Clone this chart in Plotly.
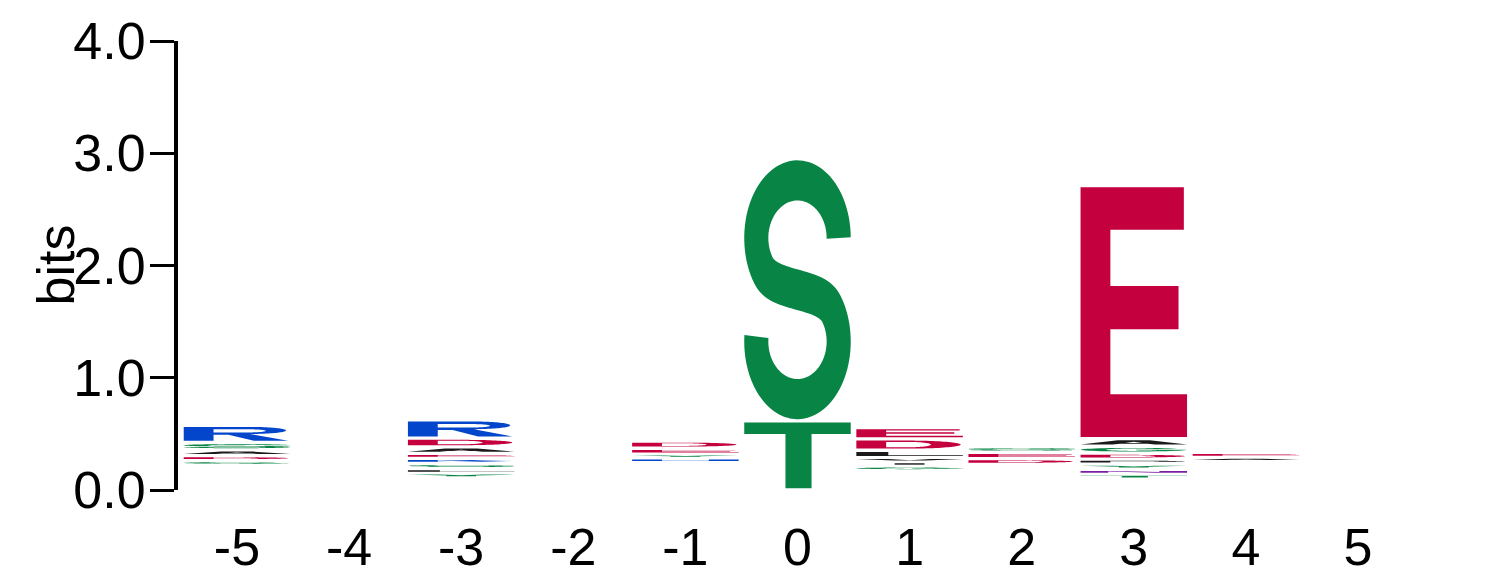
import numpy as np
import plotly.graph_objects as go

# ---------------- data ----------------
positions = [-5, -4, -3, -2, -1, 0, 1, 2, 3, 4, 5]
tick_labels = ["-5", "-4", "-3", "-2", "-1", "0", "1", "2", "3", "4", "5"]
y_ticks = [0, 1, 2, 3, 4]
y_tick_labels = ["0.0", "1.0", "2.0", "3.0", "4.0"]

# information (bits) carried by residues too small to be drawn at each position
minor_bits = [0.221, 0.0, 0.110, 0.0, 0.246, 0.0, 0.172, 0.228, 0.098, 0.255, 0.0]

# letters per position, bottom -> top
stack_letters = [
    ["G", "D", "A", "S", "R"],
    [],
    ["Y", "L", "S", "K", "E", "A", "D", "R"],
    [],
    ["H", "Y", "E", "D"],
    ["T", "S"],
    ["G", "I", "V", "L", "D", "E"],
    ["D", "E", "S"],
    ["T", "N", "Y", "P", "D", "G", "A", "E"],
    ["A", "E"],
    [],
]
stack_bits = [
    [0.040, 0.045, 0.051, 0.067, 0.153],
    [],
    [0.040, 0.040, 0.046, 0.045, 0.045, 0.058, 0.078, 0.163],
    [],
    [0.039, 0.034, 0.053, 0.065],
    [0.616, 2.336],
    [0.042, 0.036, 0.039, 0.065, 0.101, 0.102],
    [0.051, 0.057, 0.051],
    [0.042, 0.045, 0.045, 0.045, 0.053, 0.062, 0.068, 2.255],
    [0.036, 0.043],
    [],
]

# ---------------- style ----------------
BLUE, RED, GREEN, PURPLE, BLACK = "#0346CC", "#C4003F", "#088545", "#7B1FA2", "#1A1A1A"
letter_colors = {
    "R": BLUE, "K": BLUE, "H": BLUE,
    "D": RED, "E": RED,
    "S": GREEN, "T": GREEN, "G": GREEN, "Y": GREEN, "C": GREEN,
    "N": PURPLE, "Q": PURPLE,
    "A": BLACK, "L": BLACK, "I": BLACK, "V": BLACK, "P": BLACK,
    "M": BLACK, "F": BLACK, "W": BLACK,
}
LETTER_WIDTH = 0.95
PAD = 0.015
FONT = "Liberation Sans, Arial, Helvetica, sans-serif"


# ---------------- glyph outlines (unit box) ----------------
def arc(cx, cy, rx, ry, a0, a1, n=48):
    a = np.radians(np.linspace(a0, a1, n))
    return list(zip(cx + rx * np.cos(a), cy + ry * np.sin(a)))


def glyph_S():
    # centerline stroked with uniform thickness in "font space", then squeezed to unit box
    W, t = 0.685, 0.155
    ax, by = (W - t) / 2, 0.5 - 0.2 - t / 2
    cx, yu, yl = W / 2, 0.70, 0.30
    up = np.array(arc(cx, yu, ax, by, 0, 215, 60))
    lo = np.array(arc(cx, yl, ax, by, 35, -185, 90))
    p0, p3 = up[-1], lo[0]
    th = np.radians(215)
    tan = np.array([-ax * np.sin(th), by * np.cos(th)])
    tan = tan / np.linalg.norm(tan)
    s = 0.11
    p1, p2 = p0 + s * tan, p3 - s * tan
    tt = np.linspace(0, 1, 30)[1:-1, None]
    bez = ((1 - tt) ** 3) * p0 + 3 * ((1 - tt) ** 2) * tt * p1 + 3 * (1 - tt) * tt ** 2 * p2 + tt ** 3 * p3
    c = np.vstack([up, bez, lo])
    d = np.gradient(c, axis=0)
    d = d / np.linalg.norm(d, axis=1)[:, None]
    n = np.column_stack([-d[:, 1], d[:, 0]])
    left = c + n * t / 2
    right = c - n * t / 2
    poly = np.vstack([left, right[::-1]])
    poly[:, 0] = poly[:, 0] / W
    return {"outer": [[tuple(p) for p in poly]], "holes": []}


def glyph_R():
    outer = [(0, 0), (0, 1), (0.62, 1)] + arc(0.62, 0.745, 0.34, 0.255, 90, -90)[1:] + \
            [(0.98, 0), (0.66, 0), (0.42, 0.43), (0.28, 0.43), (0.28, 0)]
    hole = [(0.28, 0.6), (0.6, 0.6)] + arc(0.6, 0.715, 0.17, 0.115, -90, 90)[1:] + [(0.28, 0.83)]
    return {"outer": [outer], "holes": [hole]}


def glyph_D():
    outer = [(0, 0), (0, 1), (0.5, 1)] + arc(0.5, 0.5, 0.48, 0.5, 90, -90)[1:]
    hole = [(0.28, 0.17), (0.5, 0.17)] + arc(0.5, 0.5, 0.2, 0.33, -90, 90)[1:] + [(0.28, 0.83)]
    return {"outer": [outer], "holes": [hole]}


def glyph_P():
    outer = [(0, 0), (0, 1), (0.6, 1)] + arc(0.6, 0.7, 0.38, 0.3, 90, -90)[1:] + [(0.28, 0.4), (0.28, 0)]
    hole = [(0.28, 0.56), (0.58, 0.56)] + arc(0.58, 0.7, 0.16, 0.14, -90, 90)[1:] + [(0.28, 0.84)]
    return {"outer": [outer], "holes": [hole]}


def glyph_G():
    outer = arc(0.5, 0.5, 0.5, 0.5, 35, 355) + [(1, 0.5), (0.52, 0.5), (0.52, 0.36), (0.74, 0.36)]
    outer += arc(0.5, 0.5, 0.26, 0.33, 340, 35)
    return {"outer": [outer], "holes": []}


GLYPHS = {
    "E": {"outer": [[(0, 0), (1, 0), (1, 0.171), (0.28, 0.171), (0.28, 0.431), (0.92, 0.431),
                     (0.92, 0.604), (0.28, 0.604), (0.28, 0.829), (0.97, 0.829), (0.97, 1), (0, 1)]],
          "holes": []},
    "T": {"outer": [[(0, 1), (1, 1), (1, 0.826), (0.632, 0.826), (0.632, 0), (0.387, 0),
                     (0.387, 0.826), (0, 0.826)]], "holes": []},
    "A": {"outer": [[(0, 0), (0.35, 1), (0.65, 1), (1, 0), (0.7, 0), (0.63, 0.2), (0.37, 0.2), (0.3, 0)]],
          "holes": [[(0.42, 0.36), (0.58, 0.36), (0.5, 0.66)]]},
    "L": {"outer": [[(0, 0), (1, 0), (1, 0.17), (0.3, 0.17), (0.3, 1), (0, 1)]], "holes": []},
    "I": {"outer": [[(0.36, 0), (0.64, 0), (0.64, 1), (0.36, 1)]], "holes": []},
    "V": {"outer": [[(0, 1), (0.3, 1), (0.5, 0.25), (0.7, 1), (1, 1), (0.65, 0), (0.35, 0)]], "holes": []},
    "Y": {"outer": [[(0, 1), (0.3, 1), (0.5, 0.62), (0.7, 1), (1, 1), (0.64, 0.42), (0.64, 0),
                     (0.36, 0), (0.36, 0.42)]], "holes": []},
    "H": {"outer": [[(0, 0), (0.28, 0), (0.28, 0.42), (0.72, 0.42), (0.72, 0), (1, 0), (1, 1),
                     (0.72, 1), (0.72, 0.59), (0.28, 0.59), (0.28, 1), (0, 1)]], "holes": []},
    "K": {"outer": [[(0, 0), (0.28, 0), (0.28, 0.32), (0.42, 0.47), (0.7, 0), (1, 0), (0.6, 0.66),
                     (0.97, 1), (0.62, 1), (0.28, 0.64), (0.28, 1), (0, 1)]], "holes": []},
    "N": {"outer": [[(0, 0), (0.26, 0), (0.26, 0.66), (0.7, 0), (1, 0), (1, 1), (0.74, 1),
                     (0.74, 0.34), (0.3, 1), (0, 1)]], "holes": []},
    "S": glyph_S(),
    "R": glyph_R(),
    "D": glyph_D(),
    "P": glyph_P(),
    "G": glyph_G(),
}


def signed_area(poly):
    p = np.array(poly)
    x, y = p[:, 0], p[:, 1]
    return 0.5 * np.sum(x * np.roll(y, -1) - np.roll(x, -1) * y)


def oriented(poly, ccw):
    a = signed_area(poly)
    if (a > 0) != ccw:
        return poly[::-1]
    return poly


def glyph_path(letter, xc, y0, h):
    g = GLYPHS[letter]
    w = LETTER_WIDTH
    parts = []
    polys = [oriented(p, True) for p in g["outer"]] + [oriented(p, False) for p in g["holes"]]
    for poly in polys:
        pts = [(xc - w / 2 + u * w, y0 + v * h) for u, v in poly]
        s = "M " + " L ".join(f"{x:.5f},{y:.5f}" for x, y in pts) + " Z"
        parts.append(s)
    return " ".join(parts)


# ---------------- figure ----------------
fig = go.Figure()
# invisible trace so the axes are created
fig.add_trace(go.Scatter(x=positions, y=[0] * len(positions), mode="markers",
                         marker=dict(opacity=0), hoverinfo="skip", showlegend=False))

shapes = []
for pos, base, letters, bits in zip(positions, minor_bits, stack_letters, stack_bits):
    y = base
    for letter, b in zip(letters, bits):
        gh = max(b - 2 * PAD, 0.35 * b)
        gy = y + (b - gh) / 2
        shapes.append(dict(type="path", xref="x", yref="y",
                           path=glyph_path(letter, pos, gy, gh),
                           fillcolor=letter_colors[letter], line=dict(width=0),
                           layer="above"))
        y += b

fig.update_layout(
    width=1486, height=583,
    margin=dict(l=178, r=28, t=41, b=93, autoexpand=False),
    plot_bgcolor="white", paper_bgcolor="white",
    shapes=shapes,
    showlegend=False,
    font=dict(family=FONT, color="black", size=52),
    xaxis=dict(range=[-5.526, 5.892], tickvals=positions, ticktext=tick_labels,
               showline=False, ticks="", showgrid=False, zeroline=False, automargin=False,
               tickfont=dict(size=52, family=FONT, color="black"),
               ticklabelstandoff=22),
    yaxis=dict(range=[0, 4], tickvals=y_ticks, ticktext=y_tick_labels,
               ticks="outside", ticklen=24, tickwidth=3, tickcolor="black",
               showline=True, linewidth=4, linecolor="black", automargin=False,
               showgrid=False, zeroline=False, ticklabelstandoff=-6,
               tickfont=dict(size=52, family=FONT, color="black")),
    annotations=[dict(text="bits", textangle=-90, xref="paper", yref="paper",
                      x=(56 - 178) / 1270, y=0.5, xanchor="center", yanchor="middle",
                      showarrow=False, font=dict(size=52, family=FONT, color="black"))],
)

fig.write_html("out.html")
